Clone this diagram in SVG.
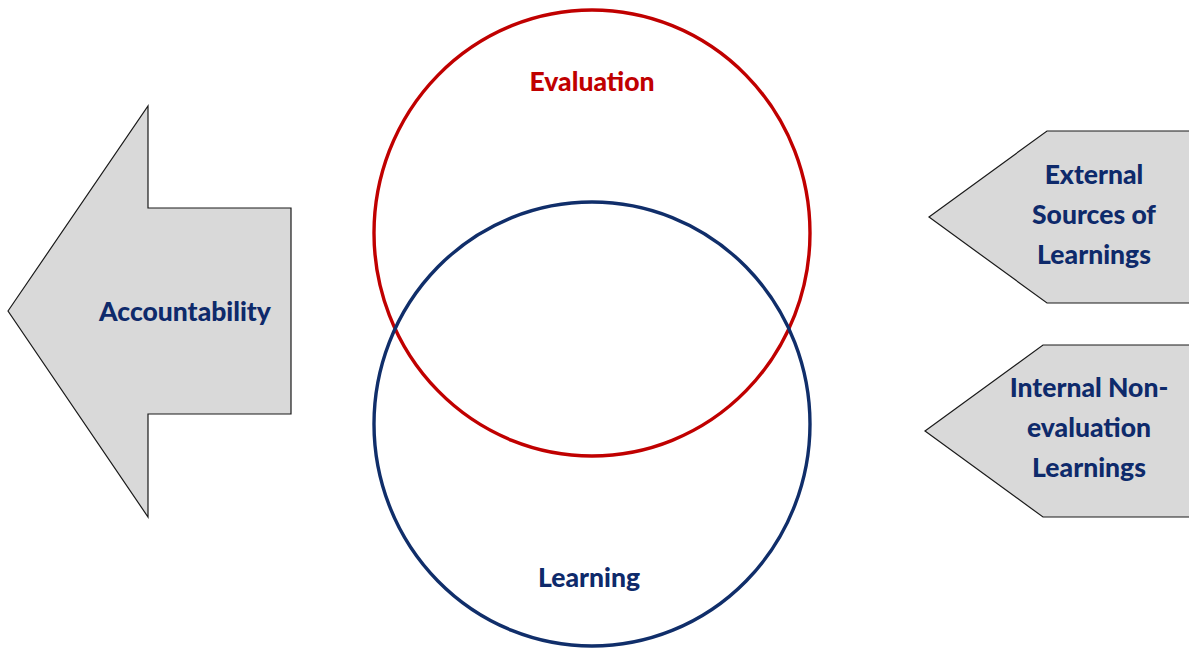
<svg xmlns="http://www.w3.org/2000/svg" width="1189" height="648" viewBox="0 0 1189 648">
  <style>
    .shape { fill: #D9D9D9; stroke: #1A1A1A; stroke-width: 1.2; stroke-linejoin: miter; }
    .label { font-family: Lato, "Open Sans", "Liberation Sans", sans-serif; font-weight: 900; font-size: 26.5px; fill: #0E2A6B; text-anchor: middle; }
    .red { fill: #C00000; }
    .ring { fill: none; stroke-width: 3.4; }
  </style>
  <rect width="1189" height="648" fill="#FFFFFF"/>

  <!-- Outgoing arrow on the left -->
  <g id="accountability">
    <polygon class="shape" points="8,311 148,106 148,208 291,208 291,414 148,414 148,517"/>
    <text class="label" x="185" y="321">Accountability</text>
  </g>

  <!-- Venn circles -->
  <g id="evaluation">
    <ellipse class="ring" cx="592" cy="233" rx="218" ry="223" stroke="#C00000"/>
    <text class="label red" x="592" y="91">Evaluation</text>
  </g>
  <g id="learning">
    <ellipse class="ring" cx="592" cy="424" rx="218" ry="222" stroke="#102E6A"/>
    <text class="label" x="589" y="587">Learning</text>
  </g>

  <!-- Incoming pentagons on the right -->
  <g id="external-sources">
    <polygon class="shape" points="929,217 1047,131 1195,131 1195,303 1047,303"/>
    <text class="label" x="1094" y="184">External</text>
    <text class="label" x="1094" y="224">Sources of</text>
    <text class="label" x="1094" y="264">Learnings</text>
  </g>
  <g id="internal-learnings">
    <polygon class="shape" points="925,431 1043,345 1195,345 1195,517 1043,517"/>
    <text class="label" x="1089" y="397">Internal Non-</text>
    <text class="label" x="1089" y="437">evaluation</text>
    <text class="label" x="1089" y="477">Learnings</text>
  </g>

  <!-- no connectors in this figure -->
  <g id="connectors"/>
</svg>
